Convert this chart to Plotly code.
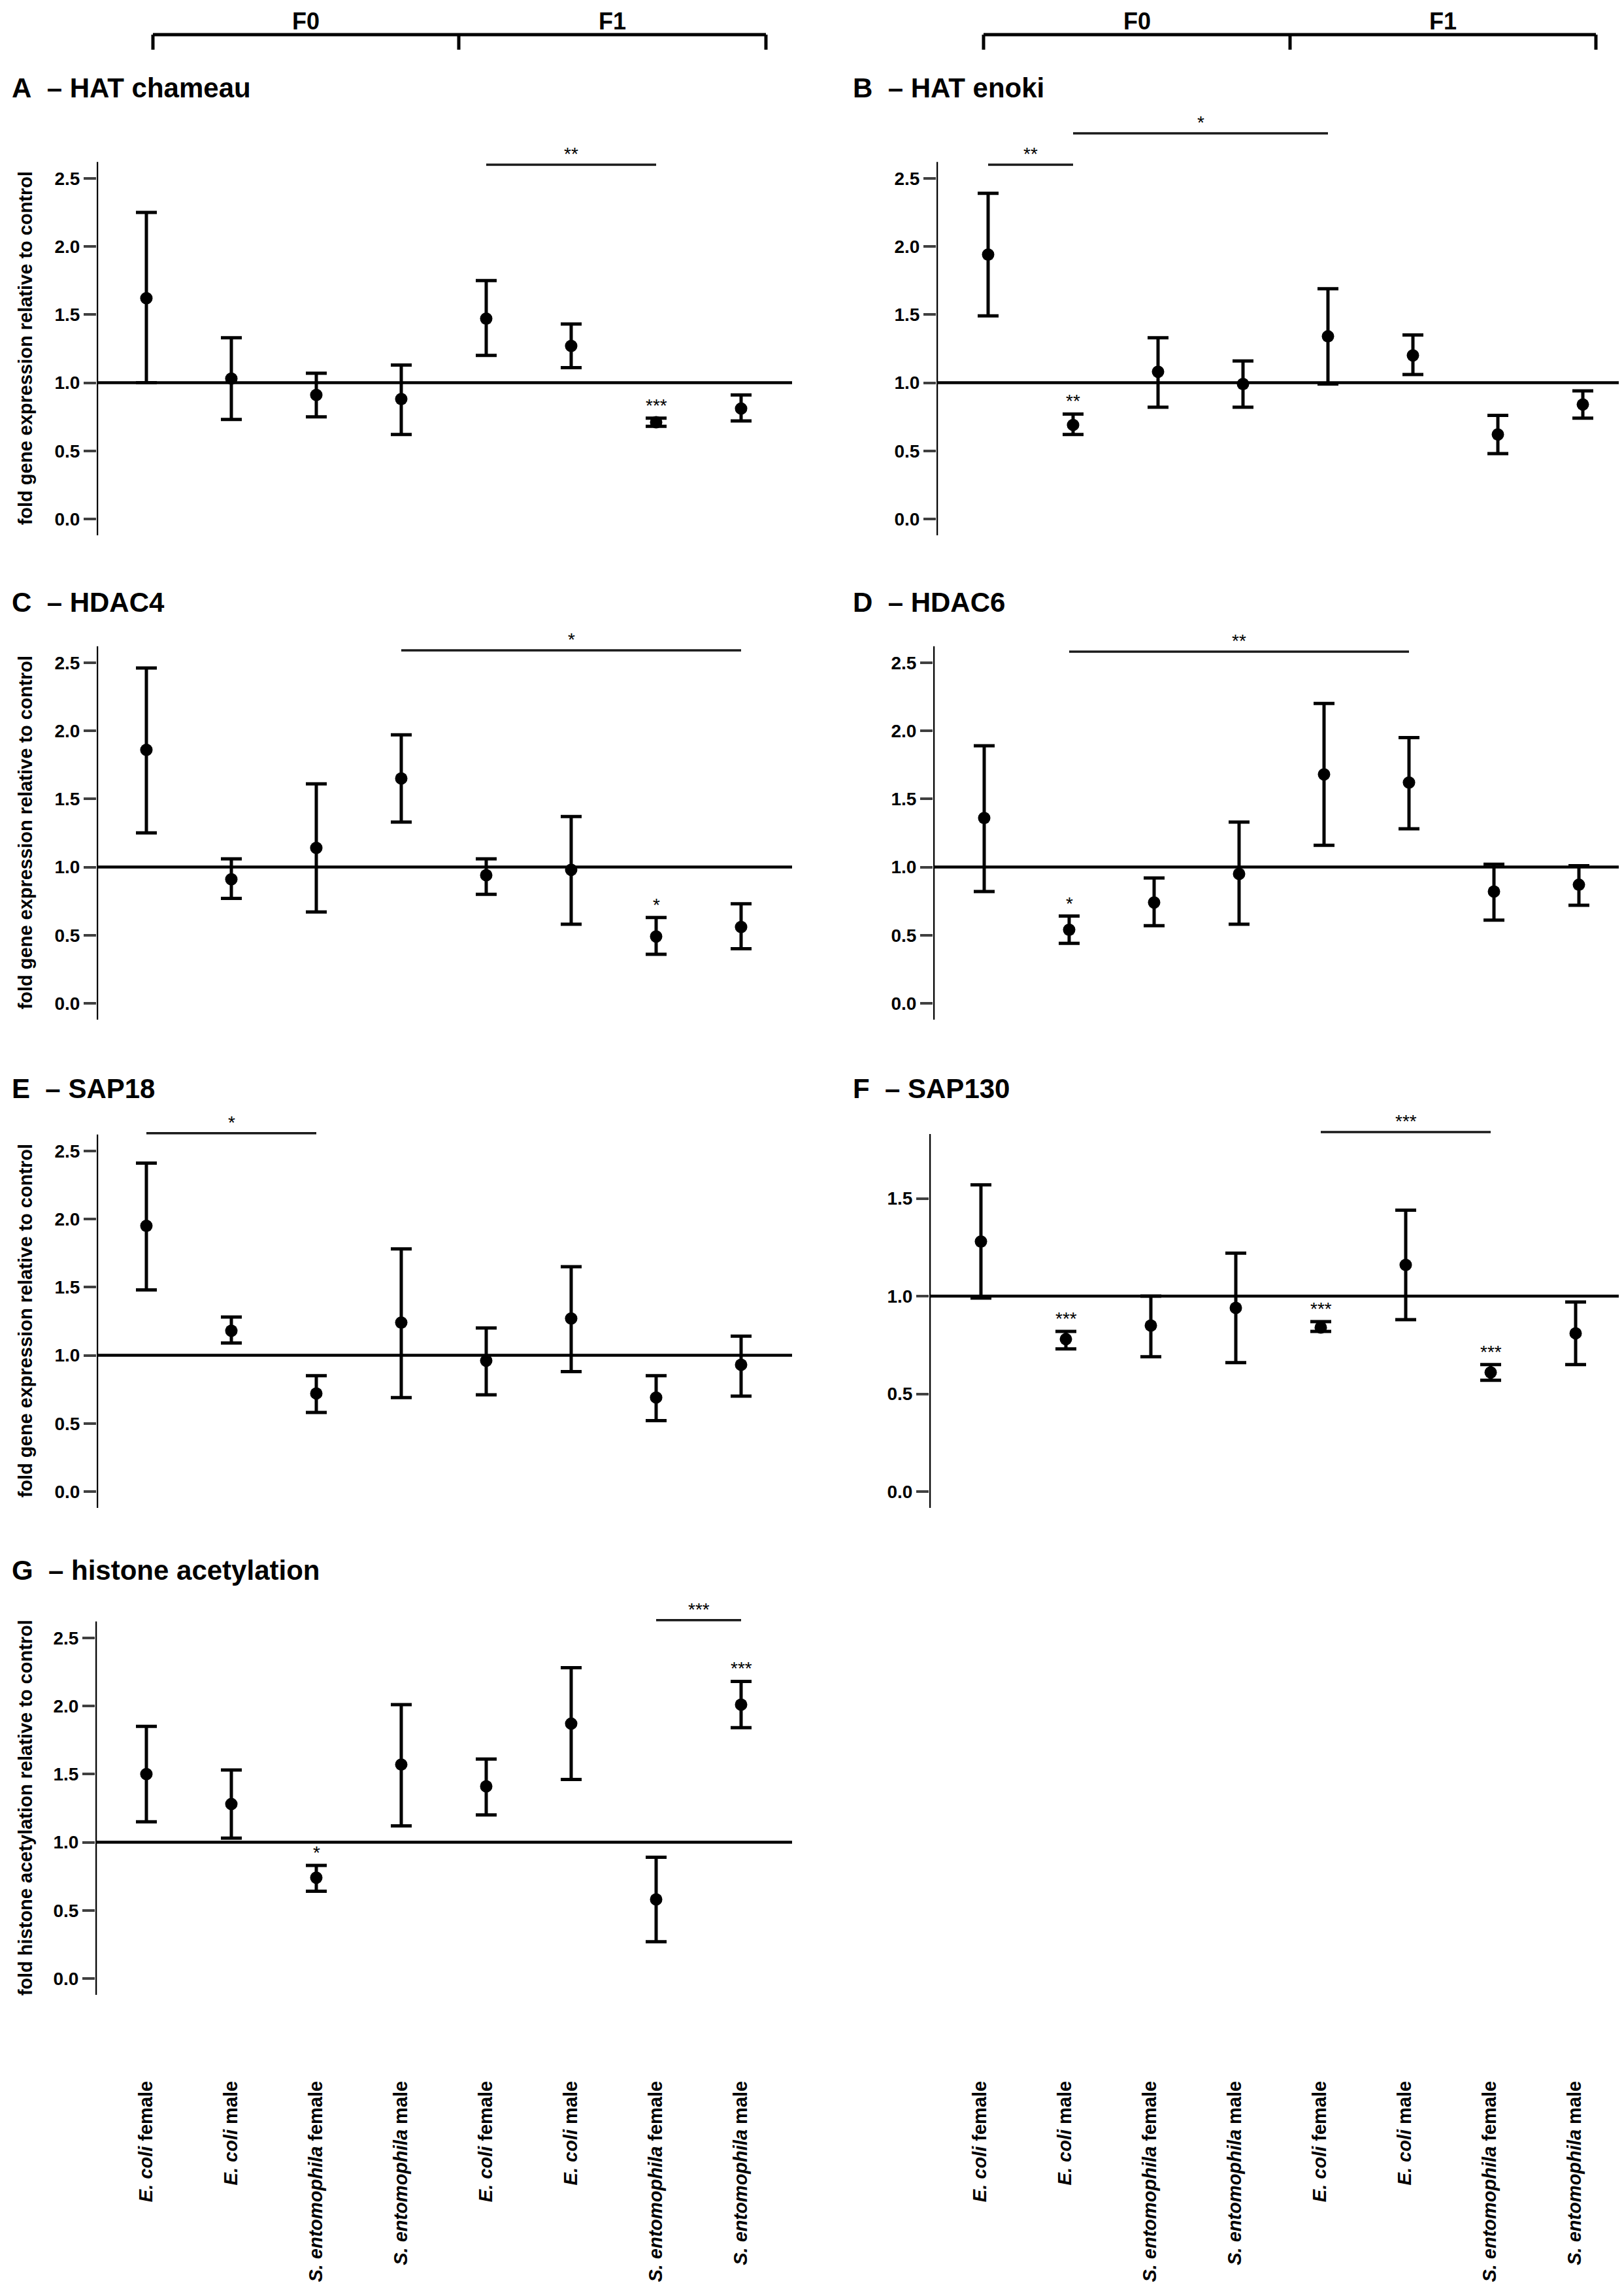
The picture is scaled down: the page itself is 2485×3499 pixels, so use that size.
import numpy as np
import plotly.graph_objects as go

# ---------------- data ----------------
categories = ["<i>E. coli</i> female", "<i>E. coli</i> male",
              "<i>S. entomophila</i> female", "<i>S. entomophila</i> male",
              "<i>E. coli</i> female", "<i>E. coli</i> male",
              "<i>S. entomophila</i> female", "<i>S. entomophila</i> male"]
generations = ["F0", "F1"]

# A - HAT chameau
chameau_mean = [1.62, 1.03, 0.91, 0.88, 1.47, 1.27, 0.71, 0.81]
chameau_hi = [2.25, 1.33, 1.07, 1.13, 1.75, 1.43, 0.74, 0.91]
chameau_lo = [1.00, 0.73, 0.75, 0.62, 1.20, 1.11, 0.68, 0.72]
chameau_stars = [(6, "***")]
chameau_brackets = [(4, 6, 2.60, "**")]

# B - HAT enoki
enoki_mean = [1.94, 0.69, 1.08, 0.99, 1.34, 1.20, 0.62, 0.84]
enoki_hi = [2.39, 0.77, 1.33, 1.16, 1.69, 1.35, 0.76, 0.94]
enoki_lo = [1.49, 0.62, 0.82, 0.82, 0.99, 1.06, 0.48, 0.74]
enoki_stars = [(1, "**")]
enoki_brackets = [(0, 1, 2.60, "**"), (1, 4, 2.83, "*")]

# C - HDAC4
hdac4_mean = [1.86, 0.91, 1.14, 1.65, 0.94, 0.98, 0.49, 0.56]
hdac4_hi = [2.46, 1.06, 1.61, 1.97, 1.06, 1.37, 0.63, 0.73]
hdac4_lo = [1.25, 0.77, 0.67, 1.33, 0.80, 0.58, 0.36, 0.40]
hdac4_stars = [(6, "*")]
hdac4_brackets = [(3, 7, 2.59, "*")]

# D - HDAC6
hdac6_mean = [1.36, 0.54, 0.74, 0.95, 1.68, 1.62, 0.82, 0.87]
hdac6_hi = [1.89, 0.64, 0.92, 1.33, 2.20, 1.95, 1.02, 1.01]
hdac6_lo = [0.82, 0.44, 0.57, 0.58, 1.16, 1.28, 0.61, 0.72]
hdac6_stars = [(1, "*")]
hdac6_brackets = [(1, 5, 2.58, "**")]

# E - SAP18
sap18_mean = [1.95, 1.18, 0.72, 1.24, 0.96, 1.27, 0.69, 0.93]
sap18_hi = [2.41, 1.28, 0.85, 1.78, 1.20, 1.65, 0.85, 1.14]
sap18_lo = [1.48, 1.09, 0.58, 0.69, 0.71, 0.88, 0.52, 0.70]
sap18_stars = []
sap18_brackets = [(0, 2, 2.63, "*")]

# F - SAP130
sap130_mean = [1.28, 0.78, 0.85, 0.94, 0.84, 1.16, 0.61, 0.81]
sap130_hi = [1.57, 0.82, 1.00, 1.22, 0.87, 1.44, 0.65, 0.97]
sap130_lo = [0.99, 0.73, 0.69, 0.66, 0.82, 0.88, 0.57, 0.65]
sap130_stars = [(1, "***"), (4, "***"), (6, "***")]
sap130_brackets = [(4, 6, 1.84, "***")]

# G - histone acetylation
acet_mean = [1.50, 1.28, 0.74, 1.57, 1.41, 1.87, 0.58, 2.01]
acet_hi = [1.85, 1.53, 0.83, 2.01, 1.61, 2.28, 0.89, 2.18]
acet_lo = [1.15, 1.03, 0.64, 1.12, 1.20, 1.46, 0.27, 1.84]
acet_stars = [(2, "*"), (7, "***")]
acet_brackets = [(6, 7, 2.63, "***")]

gene_ytitle = "fold gene expression relative to control"
acet_ytitle = "fold histone acetylation relative to control"

# ---------------- layout geometry (pixels of the 2485x3499 page) ----------------
W, H = 2485, 3499
FONT = "Liberation Sans, Arial, sans-serif"
STEP = 130                      # px between categories
UNIT = 208.5                    # px per 1.0 fold
ROW_ZERO = [786, 1527, 2274, 3019]
ROW_TITLE = [131, 918, 1661, 2398]

panels = [
    dict(letter="A", title="HAT chameau", mean=chameau_mean, hi=chameau_hi, lo=chameau_lo,
         stars=chameau_stars, brackets=chameau_brackets, row=0, col=0, ytitle=gene_ytitle),
    dict(letter="B", title="HAT enoki", mean=enoki_mean, hi=enoki_hi, lo=enoki_lo,
         stars=enoki_stars, brackets=enoki_brackets, row=0, col=1),
    dict(letter="C", title="HDAC4", mean=hdac4_mean, hi=hdac4_hi, lo=hdac4_lo,
         stars=hdac4_stars, brackets=hdac4_brackets, row=1, col=0, ytitle=gene_ytitle),
    dict(letter="D", title="HDAC6", mean=hdac6_mean, hi=hdac6_hi, lo=hdac6_lo,
         stars=hdac6_stars, brackets=hdac6_brackets, row=1, col=1),
    dict(letter="E", title="SAP18", mean=sap18_mean, hi=sap18_hi, lo=sap18_lo,
         stars=sap18_stars, brackets=sap18_brackets, row=2, col=0, ytitle=gene_ytitle),
    dict(letter="F", title="SAP130", mean=sap130_mean, hi=sap130_hi, lo=sap130_lo,
         stars=sap130_stars, brackets=sap130_brackets, row=2, col=1, unit=298.9,
         ticks=[0, 0.5, 1.0, 1.5], ytop=1.83),
    dict(letter="G", title="histone acetylation", mean=acet_mean, hi=acet_hi, lo=acet_lo,
         stars=acet_stars, brackets=acet_brackets, row=3, col=0, ytitle=acet_ytitle),
]

# x placement per panel: (axis px, first category px, right end px)
xplace = {"A": (140, 216, 1204), "C": (140, 216, 1204), "E": (140, 216, 1204), "G": (138, 216, 1204),
          "B": (1425, 1504, 2485), "D": (1420, 1498, 2485), "F": (1414, 1493, 2485),
          "H": (1414, 1492, 2485)}
LABEL_STANDOFF = 125


def px(x):
    return x / W


def py(y):
    return 1 - y / H


fig = go.Figure()
shapes = []
annotations = []
layout = {}

tick_font = dict(family=FONT, size=28, color="black", weight="bold")
label_font = dict(family=FONT, size=29, color="black", weight="bold")
star_font = dict(family=FONT, size=28, color="black")

for n, p in enumerate(panels, start=1):
    xa, ya = f"x{n}", f"y{n}"
    unit = p.get("unit", UNIT)
    zero = ROW_ZERO[p["row"]]
    top_px, bot_px = zero - 625.5, zero + 25
    yr = [-(bot_px - zero) / unit, (zero - top_px) / unit]
    ax_px, p0, right = xplace[p["letter"]]
    xr = [(ax_px - p0) / STEP, (right - p0) / STEP]

    mean = np.array(p["mean"])
    hi = np.array(p["hi"])
    lo = np.array(p["lo"])

    fig.add_trace(go.Scatter(
        x=list(range(8)), y=mean, mode="markers", xaxis=xa, yaxis=ya, cliponaxis=False,
        marker=dict(color="black", size=19),
        error_y=dict(type="data", symmetric=False, array=hi - mean, arrayminus=mean - lo,
                     color="black", thickness=5, width=16),
        showlegend=False, hoverinfo="skip"))

    last_row = p["row"] == 3
    layout[f"xaxis{n}"] = dict(
        domain=[px(ax_px), px(right)], range=xr, anchor=ya, showline=False, showgrid=False,
        zeroline=False, tickvals=list(range(8)), ticktext=categories, ticks="",
        showticklabels=last_row, tickangle=-90, ticklabelstandoff=LABEL_STANDOFF,
        tickfont=label_font, automargin=False, fixedrange=True)
    layout[f"yaxis{n}"] = dict(
        domain=[py(bot_px), py(top_px)], range=yr, anchor=xa, showline=False, showgrid=False,
        zeroline=False, tickvals=p.get("ticks", [0, 0.5, 1.0, 1.5, 2.0, 2.5]), tickformat=".1f",
        ticks="outside", ticklen=19, tickwidth=4, tickcolor="#404040", tickfont=tick_font,
        automargin=False, fixedrange=True)

    # y axis line and the x axis crossing at 1.0
    shapes.append(dict(type="line", xref=xa, yref=ya, x0=xr[0], x1=xr[0], y0=-0.12 * UNIT / unit,
                       y1=p.get("ytop", 2.62), line=dict(color="black", width=4.5)))
    shapes.append(dict(type="line", xref=xa, yref=ya, x0=xr[0], x1=xr[1], y0=1, y1=1,
                       line=dict(color="black", width=4.5)))

    # significance over single points
    for idx, lab in p["stars"]:
        annotations.append(dict(x=idx, y=hi[idx], xref=xa, yref=ya, text=lab, showarrow=False,
                                yanchor="bottom", yshift=2, font=star_font))
    # comparison brackets
    for i0, i1, yb, lab in p["brackets"]:
        shapes.append(dict(type="line", xref=xa, yref=ya, x0=i0, x1=i1, y0=yb, y1=yb,
                           line=dict(color="#1a1a1a", width=3.5)))
        annotations.append(dict(x=(i0 + i1) / 2, y=yb, xref=xa, yref=ya, text=lab, showarrow=False,
                                yanchor="bottom", yshift=-1, font=star_font))

    # panel title
    tx = 8 if p["col"] == 0 else 1295
    annotations.append(dict(x=px(tx), y=py(ROW_TITLE[p["row"]]), xref="paper", yref="paper",
                            text=f"{p['letter']}\u00a0\u00a0– {p['title']}", showarrow=False,
                            xanchor="left", yanchor="middle", yshift=4,
                            font=dict(family=FONT, size=42, color="black", weight="bold")))
    # y axis title
    if "ytitle" in p:
        ymid = (zero - 2.62 * UNIT + bot_px) / 2
        annotations.append(dict(x=px(31), y=py(ymid), xref="paper", yref="paper", text=p["ytitle"],
                                textangle=-90, showarrow=False, xanchor="center", yanchor="middle",
                                font=dict(family=FONT, size=29, color="black", weight="bold")))

# empty cell under F, only carrying the category labels
ax_px, p0, right = xplace["H"]
zero = ROW_ZERO[3]
fig.add_trace(go.Scatter(x=[], y=[], xaxis="x8", yaxis="y8", showlegend=False))
layout["xaxis8"] = dict(domain=[px(ax_px), px(right)], range=[(ax_px - p0) / STEP, (right - p0) / STEP],
                        anchor="y8", showline=False, showgrid=False, zeroline=False,
                        tickvals=list(range(8)), ticktext=categories, ticks="", tickangle=-90,
                        ticklabelstandoff=LABEL_STANDOFF, tickfont=label_font, automargin=False,
                        fixedrange=True)
layout["yaxis8"] = dict(domain=[py(zero + 25), py(zero - 625.5)], range=[-0.12, 3.0], anchor="x8",
                        visible=False, fixedrange=True)

# F0 / F1 generation brackets on top of both columns
for left, mid, rgt in [(226, 694, 1164), (1497, 1966, 2434)]:
    shapes.append(dict(type="line", xref="paper", yref="paper", x0=px(left), x1=px(rgt),
                       y0=py(45), y1=py(45), line=dict(color="black", width=5)))
    for xv in (left, mid, rgt):
        shapes.append(dict(type="line", xref="paper", yref="paper", x0=px(xv), x1=px(xv),
                           y0=py(45), y1=py(68), line=dict(color="black", width=5)))
    for g, cx in zip(generations, ((left + mid) / 2, (mid + rgt) / 2)):
        annotations.append(dict(x=px(cx), y=py(2), xref="paper", yref="paper", text=g,
                                showarrow=False, xanchor="center", yanchor="top",
                                font=dict(family=FONT, size=36, color="black", weight="bold")))

fig.update_layout(
    template="none", width=W, height=H, margin=dict(l=0, r=0, t=0, b=0),
    paper_bgcolor="white", plot_bgcolor="white", showlegend=False,
    shapes=shapes, annotations=annotations, **layout)

fig.write_html("out.html")
